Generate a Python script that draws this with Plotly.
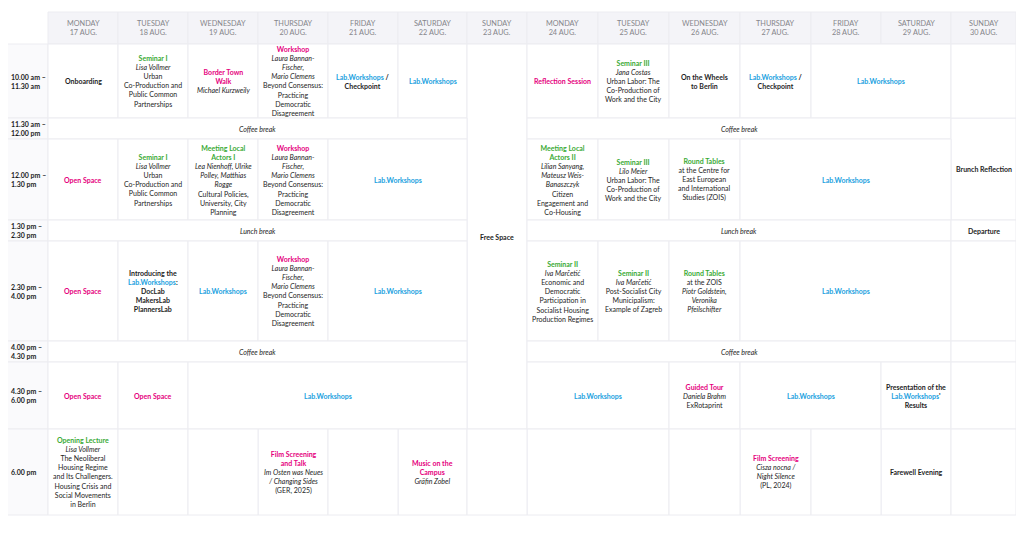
import plotly.graph_objects as go
import numpy as np

# schedule data
days = ["MONDAY", "TUESDAY", "WEDNESDAY", "THURSDAY", "FRIDAY", "SATURDAY", "SUNDAY",
        "MONDAY", "TUESDAY", "WEDNESDAY", "THURSDAY", "FRIDAY", "SATURDAY", "SUNDAY"]
dates = ["17 AUG.", "18 AUG.", "19 AUG.", "20 AUG.", "21 AUG.", "22 AUG.", "23 AUG.",
         "24 AUG.", "25 AUG.", "26 AUG.", "27 AUG.", "28 AUG.", "29 AUG.", "30 AUG."]
slots = ["10.00 am –\n11.30 am", "11.30 am –\n12.00 pm", "12.00 pm –\n1.30 pm",
         "1.30 pm –\n2.30 pm", "2.30 pm –\n4.00 pm", "4.00 pm –\n4.30 pm",
         "4.30 pm –\n6.00 pm", "6.00 pm"]

# lines starting with "_" are names / film titles (italic)
workshop_lines = "_Laura Bannan-\n_Fischer,\n_Mario Clemens\nBeyond Consensus:\nPracticing\nDemocratic\nDisagreement"
seminar1_lines = "_Lisa Vollmer\nUrban\nCo-Production and\nPublic Common\nPartnerships"
seminar3_body = "Urban Labor: The\nCo-Production of\nWork and the City"

# (slot, day, rowspan, colspan, kind, title, lines)
events = [
    (1, 1, 1, 1, "bold", "Onboarding", ""),
    (1, 2, 1, 1, "seminar", "Seminar I", seminar1_lines),
    (1, 3, 1, 1, "event", "Border Town\nWalk", "_Michael Kurzweily"),
    (1, 4, 1, 1, "event", "Workshop", workshop_lines),
    (1, 5, 1, 1, "bold", "Lab.Workshops /\nCheckpoint", ""),
    (1, 6, 1, 1, "lab", "Lab.Workshops", ""),
    (1, 7, 7, 1, "bold", "Free Space", ""),
    (1, 8, 1, 1, "event", "Reflection Session", ""),
    (1, 9, 1, 1, "seminar", "Seminar III", "_Jana Costas\n" + seminar3_body),
    (1, 10, 1, 1, "bold", "On the Wheels\nto Berlin", ""),
    (1, 11, 1, 1, "bold", "Lab.Workshops /\nCheckpoint", ""),
    (1, 12, 1, 2, "lab", "Lab.Workshops", ""),
    (2, 1, 1, 6, "break", "", "_Coffee break"),
    (2, 8, 1, 6, "break", "", "_Coffee break"),
    (2, 14, 2, 1, "bold", "Brunch Reflection", ""),
    (3, 1, 1, 1, "event", "Open Space", ""),
    (3, 2, 1, 1, "seminar", "Seminar I", seminar1_lines),
    (3, 3, 1, 1, "seminar", "Meeting Local\nActors I",
     "_Lea Nienhoff, Ulrike\n_Polley, Matthias\n_Rogge\nCultural Policies,\nUniversity, City\nPlanning"),
    (3, 4, 1, 1, "event", "Workshop", workshop_lines),
    (3, 5, 1, 2, "lab", "Lab.Workshops", ""),
    (3, 8, 1, 1, "seminar", "Meeting Local\nActors II",
     "_Lilian Sanyang,\n_Mateusz Weis-\n_Banaszczyk\nCitizen\nEngagement and\nCo-Housing"),
    (3, 9, 1, 1, "seminar", "Seminar III", "_Lilo Meier\n" + seminar3_body),
    (3, 10, 1, 1, "seminar", "Round Tables",
     "at the Centre for\nEast European\nand International\nStudies (ZOIS)"),
    (3, 11, 1, 3, "lab", "Lab.Workshops", ""),
    (4, 1, 1, 6, "break", "", "_Lunch break"),
    (4, 8, 1, 6, "break", "", "_Lunch break"),
    (4, 14, 1, 1, "bold", "Departure", ""),
    (5, 1, 1, 1, "event", "Open Space", ""),
    (5, 2, 1, 1, "bold", "Introducing the\nLab.Workshops:\nDocLab\nMakersLab\nPlannersLab", ""),
    (5, 3, 1, 1, "lab", "Lab.Workshops", ""),
    (5, 4, 1, 1, "event", "Workshop", workshop_lines),
    (5, 5, 1, 2, "lab", "Lab.Workshops", ""),
    (5, 8, 1, 1, "seminar", "Seminar II",
     "_Iva Marčetić\nEconomic and\nDemocratic\nParticipation in\nSocialist Housing\nProduction Regimes"),
    (5, 9, 1, 1, "seminar", "Seminar II",
     "_Iva Marčetić\nPost-Socialist City\nMunicipalism:\nExample of Zagreb"),
    (5, 10, 1, 1, "seminar", "Round Tables",
     "at the ZOIS\n_Piotr Goldstein,\n_Veronika\n_Pfeilschifter"),
    (5, 11, 1, 3, "lab", "Lab.Workshops", ""),
    (6, 1, 1, 6, "break", "", "_Coffee break"),
    (6, 8, 1, 6, "break", "", "_Coffee break"),
    (7, 1, 1, 1, "event", "Open Space", ""),
    (7, 2, 1, 1, "event", "Open Space", ""),
    (7, 3, 1, 4, "lab", "Lab.Workshops", ""),
    (7, 8, 1, 2, "lab", "Lab.Workshops", ""),
    (7, 10, 1, 1, "event", "Guided Tour", "_Daniela Brahm\nExRotaprint"),
    (7, 11, 1, 2, "lab", "Lab.Workshops", ""),
    (7, 13, 1, 1, "bold", "Presentation of the\nLab.Workshops'\nResults", ""),
    (8, 1, 1, 1, "seminar", "Opening Lecture",
     "_Lisa Vollmer\nThe Neoliberal\nHousing Regime\nand Its Challengers.\nHousing Crisis and\nSocial Movements\nin Berlin"),
    (8, 4, 1, 1, "event", "Film Screening\nand Talk", "_Im Osten was Neues\n_/ Changing Sides\n(GER, 2025)"),
    (8, 6, 1, 1, "event", "Music on the\nCampus", "_Gräfin Zobel"),
    (8, 8, 1, 2, "empty", "", ""),
    (8, 11, 1, 1, "event", "Film Screening", "_Cisza nocna /\n_Night Silence\n(PL, 2024)"),
    (8, 13, 1, 1, "bold", "Farewell Evening", ""),
]

# layout sizes (pixels)
col_w = [41, 70, 70, 70, 70, 70, 69, 60, 71, 71, 71, 71, 70, 70, 65]
row_h = [32, 74, 21, 81, 21, 100, 21, 67, 86]
x_edges = 7 + np.concatenate([[0], np.cumsum(col_w)])
y_edges = 12 + np.concatenate([[0], np.cumsum(row_h)])

PINK = "#e5007d"
GREEN = "#3aaa35"
BLUE = "#1b9fe0"
DARK = "#1e1e1e"
GREY = "#85858a"
LINE = "#ececf1"
FONT = "Lato"
title_colors = {"seminar": GREEN, "event": PINK, "lab": BLUE}


def colour_lab(s):
    return s.replace("Lab.Workshops", f"<span style='color:{BLUE}'>Lab.Workshops</span>")


def cell_text(kind, title, lines):
    parts = []
    if title:
        t = title.replace("\n", "<br>")
        if kind == "bold":
            parts.append("<b>" + colour_lab(t) + "</b>")
        else:
            parts.append(f"<b><span style='color:{title_colors[kind]}'>" + t + "</span></b>")
    for ln in lines.split("\n") if lines else []:
        parts.append("<i>" + ln[1:] + "</i>" if ln.startswith("_") else ln)
    return "<br>".join(parts)


fig = go.Figure()
shapes = []
annotations = []


def add_cell(r0, c0, rs, cs, fill):
    shapes.append(dict(type="rect", xref="x", yref="y",
                       x0=x_edges[c0], x1=x_edges[c0 + cs],
                       y0=y_edges[r0], y1=y_edges[r0 + rs],
                       fillcolor=fill, line=dict(color=LINE, width=1), layer="below"))


def add_text(r0, c0, rs, cs, text, size=7, color=DARK, align="center", xpos=None):
    annotations.append(dict(
        x=(x_edges[c0] + x_edges[c0 + cs]) / 2 if xpos is None else xpos,
        y=(y_edges[r0] + y_edges[r0 + rs]) / 2,
        xref="x", yref="y", text=text, showarrow=False, align=align,
        xanchor="center" if xpos is None else "left", yanchor="middle",
        font=dict(family=FONT, size=size, color=color)))


# header row
for i, (d, dt) in enumerate(zip(days, dates)):
    add_cell(0, i + 1, 1, 1, "#f4f4f8")
    add_text(0, i + 1, 1, 1, d + "<br>" + dt, size=7.3, color=GREY)

# time column
for i, s in enumerate(slots):
    add_cell(i + 1, 0, 1, 1, "#fafafc")
    add_text(i + 1, 0, 1, 1, "<b>" + s.replace("\n", "<br>") + "</b>", size=7,
             align="left", xpos=x_edges[0] + 2)

# event cells
taken = np.zeros((len(slots) + 1, len(days) + 1), dtype=bool)
for (r, c, rs, cs, kind, title, lines) in events:
    taken[r:r + rs, c:c + cs] = True
    add_cell(r, c, rs, cs, "white")
    if kind != "empty":
        add_text(r, c, rs, cs, cell_text(kind, title, lines))

# empty cells left over
for r in range(1, len(slots) + 1):
    for c in range(1, len(days) + 1):
        if not taken[r, c]:
            add_cell(r, c, 1, 1, "white")

# page body has an 8px margin, so the axes map straight to page pixels
fig.update_layout(
    width=1016, height=533,
    margin=dict(l=0, r=0, t=0, b=0),
    paper_bgcolor="white", plot_bgcolor="white",
    xaxis=dict(range=[8, 1024], visible=False, fixedrange=True),
    yaxis=dict(range=[541, 8], visible=False, fixedrange=True),
    shapes=shapes, annotations=annotations,
    showlegend=False,
)

fig.write_html("out.html")
